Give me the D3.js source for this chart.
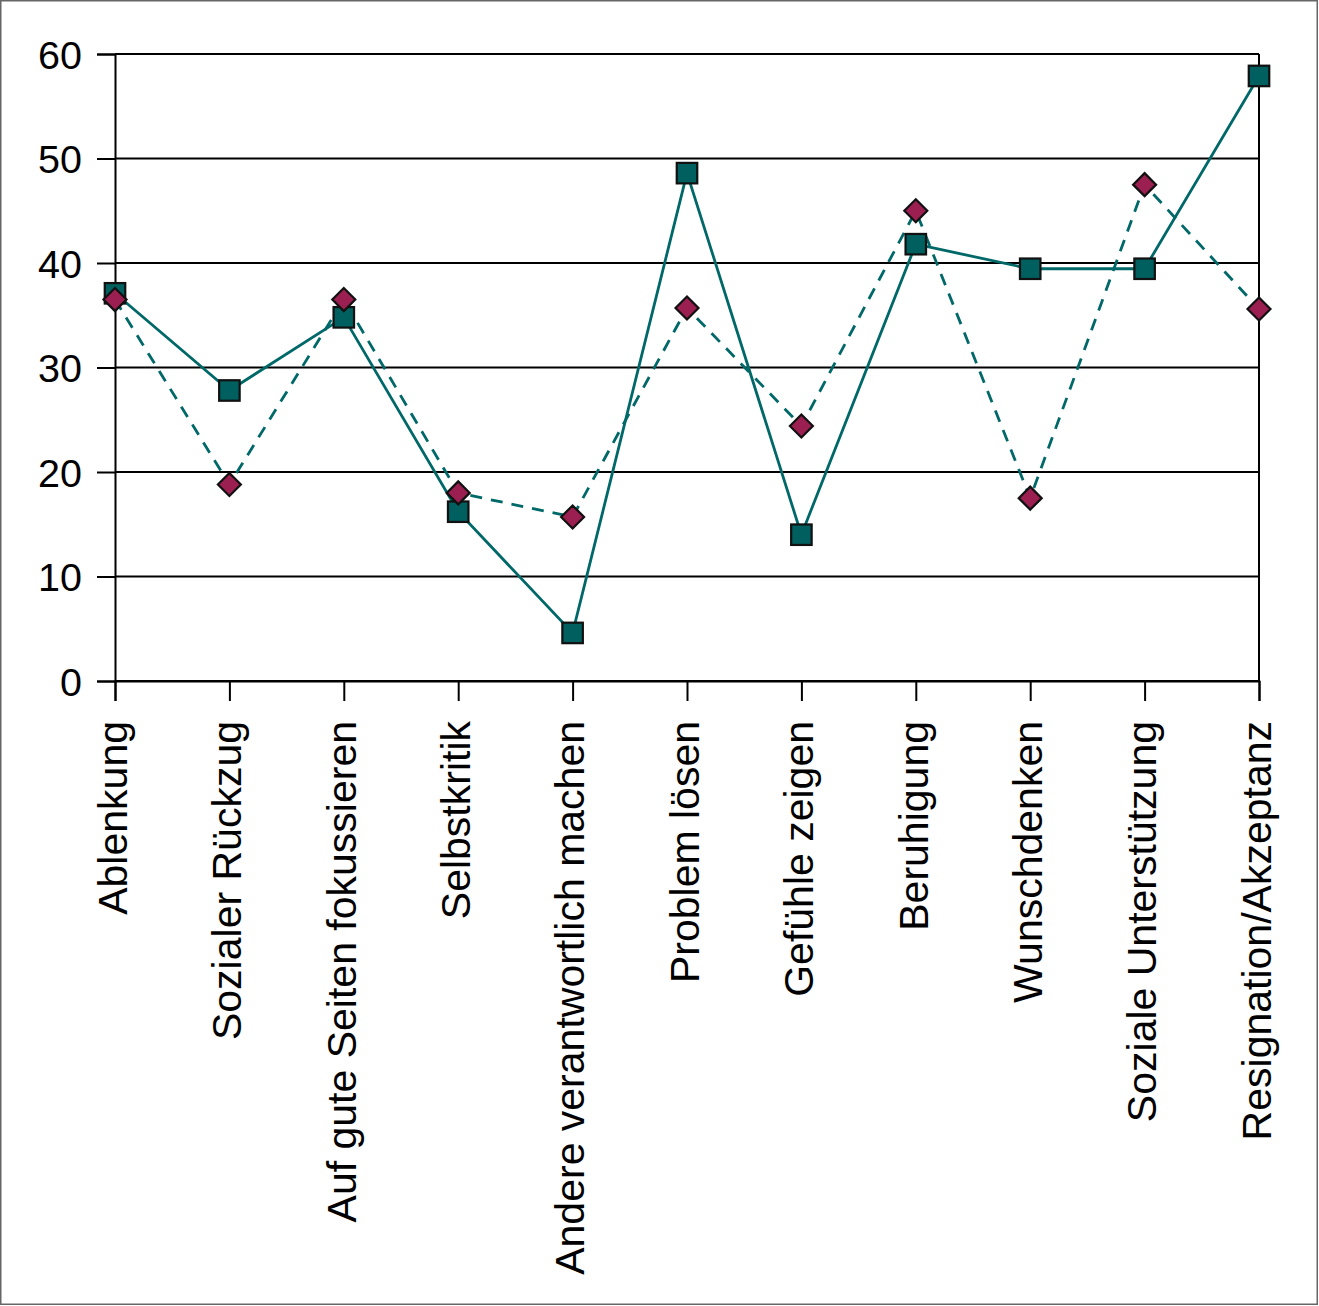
<!DOCTYPE html>
<html>
<head>
<meta charset="utf-8">
<script src="https://cdn.jsdelivr.net/npm/d3@7"></script>
<style>
  body { margin: 0; background: #fff; }
  text { font-family: "Liberation Sans", Arial, Helvetica, sans-serif; fill: #000; }
</style>
</head>
<body>
<script>
// categories along the x axis
const categories = ["Ablenkung", "Sozialer Rückzug", "Auf gute Seiten fokussieren", "Selbstkritik",
  "Andere verantwortlich machen", "Problem lösen", "Gefühle zeigen", "Beruhigung",
  "Wunschdenken", "Soziale Unterstützung", "Resignation/Akzeptanz"];
// solid line, square markers
const squareValues = [37.1, 27.8, 34.8, 16.2, 4.6, 48.6, 14.0, 41.8, 39.45, 39.45, 57.9];
// dashed line, diamond markers
const diamondValues = [36.5, 18.8, 36.5, 18.0, 15.7, 35.7, 24.4, 45.0, 17.5, 47.5, 35.6];
const yTicks = [0, 10, 20, 30, 40, 50, 60];

var W = 1319, H = 1306;
var lineColor = "#006868", squareFill = "#005f5f", diamondFill = "#9b1f50";

var svg = d3.select("body").append("svg")
  .attr("width", W).attr("height", H);

// outer frame
svg.append("rect")
  .attr("x", 0.75).attr("y", 0.75)
  .attr("width", W - 2.5).attr("height", H - 2.5)
  .attr("fill", "none").attr("stroke", "#666").attr("stroke-width", 1.5);

var x = d3.scalePoint().domain(categories).range([115, 1259]);
var y = d3.scaleLinear().domain([0, 60]).range([681, 54]);

// gridlines
svg.append("g").selectAll("line")
  .data(yTicks)
  .enter().append("line")
  .attr("x1", 115).attr("x2", 1259)
  .attr("y1", d => y(d)).attr("y2", d => y(d))
  .attr("stroke", "#000").attr("stroke-width", 2);

// right border of plot
svg.append("line")
  .attr("x1", 1259).attr("x2", 1259)
  .attr("y1", y(60)).attr("y2", y(0))
  .attr("stroke", "#000").attr("stroke-width", 2);

// y axis
var yAxis = svg.append("g")
  .attr("transform", "translate(115,0)")
  .call(d3.axisLeft(y).tickValues(yTicks).tickSize(18).tickPadding(15).tickFormat(d3.format("d")));
yAxis.select(".domain").attr("stroke", "#000").attr("stroke-width", 2);
yAxis.selectAll(".tick line").attr("stroke", "#000").attr("stroke-width", 2);
yAxis.selectAll(".tick text").attr("font-size", 39.5).attr("font-family", null).attr("dy", "0.36em");

// x axis
var xAxis = svg.append("g")
  .attr("transform", "translate(0," + y(0) + ")")
  .call(d3.axisBottom(x).tickSize(20).tickFormat(""));
xAxis.select(".domain").attr("stroke", "#000").attr("stroke-width", 2);
xAxis.selectAll(".tick line").attr("stroke", "#000").attr("stroke-width", 2);

svg.append("g").selectAll("text")
  .data(categories)
  .enter().append("text")
  .attr("transform", d => "translate(" + x(d) + ",721) rotate(-90)")
  .attr("text-anchor", "end")
  .attr("dy", "0.29em")
  .attr("font-size", 41)
  .text(d => d);

// lines
var line = d3.line()
  .x((d, i) => x(categories[i]))
  .y(d => y(d));

svg.append("path")
  .datum(diamondValues)
  .attr("d", line)
  .attr("fill", "none")
  .attr("stroke", lineColor)
  .attr("stroke-width", 2.8)
  .attr("stroke-dasharray", "12,9");

svg.append("path")
  .datum(squareValues)
  .attr("d", line)
  .attr("fill", "none")
  .attr("stroke", lineColor)
  .attr("stroke-width", 2.8);

// markers
var sq = 20.5;
svg.append("g").selectAll("rect")
  .data(squareValues)
  .enter().append("rect")
  .attr("x", (d, i) => x(categories[i]) - sq / 2)
  .attr("y", d => y(d) - sq / 2)
  .attr("width", sq).attr("height", sq)
  .attr("fill", squareFill)
  .attr("stroke", "#111").attr("stroke-width", 2.2);

var dm = 11.5;
svg.append("g").selectAll("path")
  .data(diamondValues)
  .enter().append("path")
  .attr("transform", (d, i) => "translate(" + x(categories[i]) + "," + y(d) + ")")
  .attr("d", "M0," + (-dm) + "L" + dm + ",0L0," + dm + "L" + (-dm) + ",0Z")
  .attr("fill", diamondFill)
  .attr("stroke", "#111").attr("stroke-width", 2.2);
</script>
</body>
</html>
